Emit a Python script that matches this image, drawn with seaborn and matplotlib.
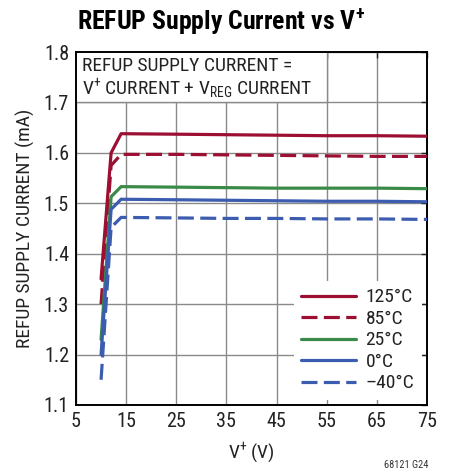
import numpy as np
import pandas as pd
import matplotlib
matplotlib.use("Agg")
import matplotlib.pyplot as plt
import seaborn as sns
from matplotlib.patches import Rectangle
from matplotlib.lines import Line2D

# ---- data ----
vplus = [10, 12, 14, 25, 35, 45, 55, 65, 75]
i_125 = [1.350, 1.600, 1.638, 1.637, 1.636, 1.635, 1.634, 1.634, 1.633]
i_85 = [1.300, 1.575, 1.597, 1.597, 1.596, 1.595, 1.594, 1.593, 1.593]
i_25 = [1.230, 1.513, 1.533, 1.532, 1.531, 1.530, 1.530, 1.530, 1.529]
i_0 = [1.200, 1.488, 1.508, 1.507, 1.506, 1.505, 1.504, 1.504, 1.503]
i_m40 = [1.150, 1.452, 1.472, 1.471, 1.470, 1.470, 1.469, 1.469, 1.468]
labels = ["125°C", "85°C", "25°C", "0°C", "\u201340°C"]
xticks = [5, 15, 25, 35, 45, 55, 65, 75]
yticks = [1.1, 1.2, 1.3, 1.4, 1.5, 1.6, 1.7, 1.8]

series = [i_125, i_85, i_25, i_0, i_m40]
df = pd.concat([pd.DataFrame({"V": vplus, "I": s, "T": lab}) for s, lab in zip(series, labels)],
               ignore_index=True)

sns.set_style("white")
base = "Roboto Condensed"
plt.rcParams["font.family"] = [base, "DejaVu Sans"]
plt.rcParams["mathtext.fontset"] = "custom"
plt.rcParams["mathtext.rm"] = base
plt.rcParams["mathtext.it"] = base
plt.rcParams["mathtext.bf"] = base + ":bold"

red = "#9c0f32"
green = "#3a8a4a"
blue = "#3c5cb0"
palette = {labels[0]: red, labels[1]: red, labels[2]: green, labels[3]: blue, labels[4]: blue}
dashes = {labels[0]: "", labels[1]: (5, 2), labels[2]: "", labels[3]: "", labels[4]: (5, 2)}

fig = plt.figure(figsize=(4.51, 4.72), dpi=100)
ax = fig.add_axes([76 / 451, 1 - 405 / 472, (427 - 76) / 451, (405 - 52) / 472])

sns.lineplot(data=df, x="V", y="I", hue="T", style="T", palette=palette, dashes=dashes,
             linewidth=2.3, ax=ax, legend=False, zorder=3)

ax.set_xlim(5, 75)
ax.set_ylim(1.1, 1.8)
ax.set_xticks(xticks)
ax.set_yticks(yticks)
ax.set_xticklabels([str(t) for t in xticks])
ax.set_yticklabels([f"{t:.1f}" for t in yticks])
ax.tick_params(direction="in", length=4, width=1, top=True, right=True,
               labelsize=14.5, colors="#222222", pad=5)
ax.grid(True, color="#8a8a8a", linewidth=1.0, zorder=0)
ax.set_axisbelow(True)
for sp in ax.spines.values():
    sp.set_color("black")
    sp.set_linewidth(1.4)

ax.set_xlabel("V$^{+}$ (V)", fontsize=14, color="#222222", labelpad=7)
ax.set_ylabel("REFUP SUPPLY CURRENT (mA)", fontsize=14, color="#222222", labelpad=6)

# annotation box (white cover over top-left grid cells)
ax.add_patch(Rectangle((5, 1.7), 50, 0.1, facecolor="white", edgecolor="none", zorder=1.5))
ax.plot([55, 55], [1.7, 1.8], color="#8a8a8a", lw=1.0, zorder=1.6)
ax.plot([5, 55], [1.7, 1.7], color="#8a8a8a", lw=1.0, zorder=1.6)
ax.text(6.2, 1.790, "REFUP SUPPLY CURRENT =", fontsize=14, va="top", ha="left", color="#222222")
ax.text(6.2, 1.750, "V$^{+}$ CURRENT + V$_{\\mathrm{REG}}$ CURRENT", fontsize=14,
        va="top", ha="left", color="#222222")

# legend
handles = [Line2D([0], [0], color=palette[l], lw=2.3,
                  linestyle="-" if dashes[l] == "" else (0, dashes[l])) for l in labels]
leg = ax.legend(handles, labels, loc="lower right", bbox_to_anchor=(1.0, 0.0),
                fontsize=14, frameon=True, facecolor="white", edgecolor="none",
                framealpha=1, fancybox=False, handlelength=2.8, handletextpad=0.5,
                labelspacing=0.18, borderpad=0.4, borderaxespad=0.25)
leg.set_zorder(2)
for t in leg.get_texts():
    t.set_color("#222222")

fig.text(77 / 451, 1 - 31 / 472, "REFUP Supply Current vs V$^{\\mathbf{+}}$", fontsize=18.5,
         fontweight="bold", ha="left", va="baseline", color="black")
fig.text(428 / 451, 1 - 470 / 472, "68121 G24", fontsize=7.5, ha="right", va="bottom", color="#333333")

fig.savefig("out.png", dpi=100)
